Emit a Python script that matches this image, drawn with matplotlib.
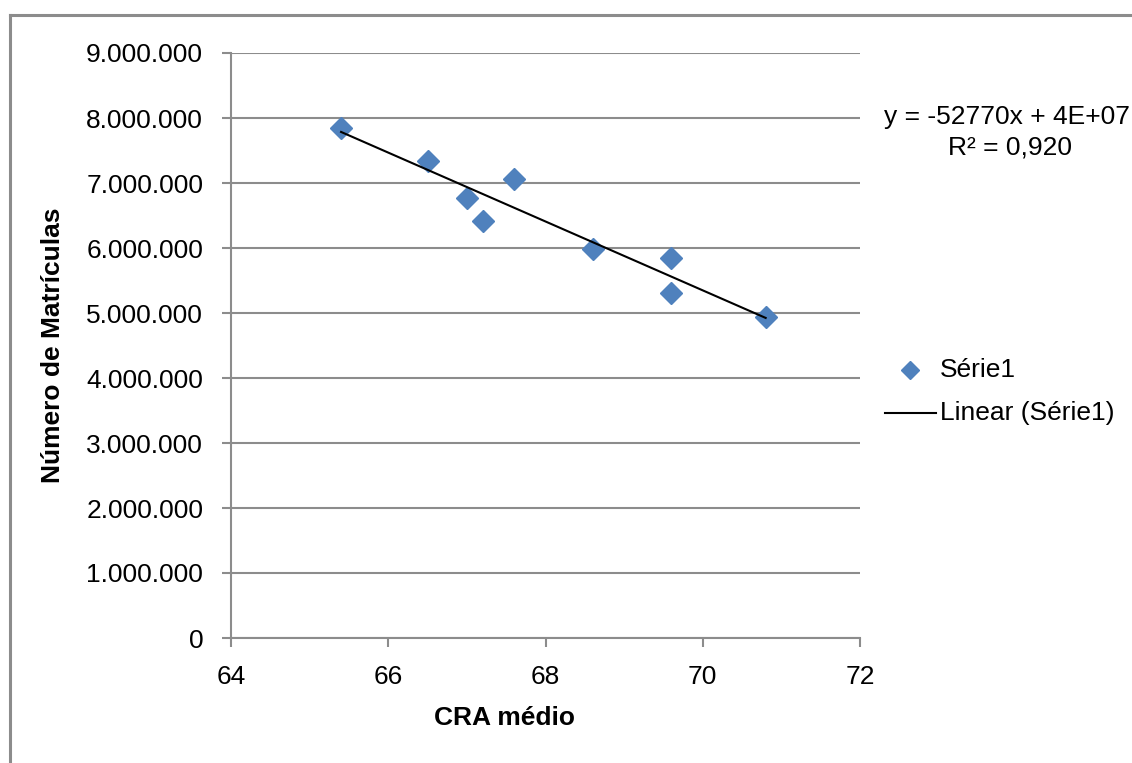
import numpy as np
import matplotlib
matplotlib.use("Agg")
import matplotlib.pyplot as plt
from matplotlib.lines import Line2D
from matplotlib.ticker import FuncFormatter

plt.rcParams['font.family'] = ['Liberation Sans', 'DejaVu Sans']

# CRA médio vs. número de matrículas
cra_medio = [65.4, 66.5, 67.0, 67.2, 67.6, 68.6, 69.6, 69.6, 70.8]
matriculas = [7846000, 7340000, 6770000, 6415000, 7060000,
              5985000, 5846000, 5310000, 4940000]

x_ticks = [64, 66, 68, 70, 72]
y_ticks = [0, 1000000, 2000000, 3000000, 4000000, 5000000,
           6000000, 7000000, 8000000, 9000000]

series_name = "Série1"
trend_name = "Linear (Série1)"
equation_text = "y = -52770x + 4E+07"
r2_text = "R² = 0,920"

blue = "#4F81BD"
grid_gray = "#8C8C8C"
FS = 19

W, H = 1132, 763
fig = plt.figure(figsize=(W / 100, H / 100), dpi=100)

# chart area frame (top and left edges visible)
fig.add_artist(Line2D([10 / W, 10 / W], [0, 1 - 15 / H], transform=fig.transFigure,
                      color="#8C8C8C", lw=2.2))
fig.add_artist(Line2D([10 / W, 1], [1 - 15 / H, 1 - 15 / H], transform=fig.transFigure,
                      color="#8C8C8C", lw=2.2))

left, right, top, bottom = 231, 860, 53, 638
ax = fig.add_axes([left / W, 1 - bottom / H, (right - left) / W, (bottom - top) / H])

ax.set_xlim(64, 72)
ax.set_ylim(0, 9000000)
ax.set_xticks(x_ticks)
ax.set_yticks(y_ticks)
ax.yaxis.set_major_formatter(FuncFormatter(lambda v, p: f"{int(v):,}".replace(",", ".")))
ax.grid(axis="y", color=grid_gray, lw=1.5)
ax.set_axisbelow(True)

for s in ["top", "right"]:
    ax.spines[s].set_visible(False)
for s in ["left", "bottom"]:
    ax.spines[s].set_color(grid_gray)
    ax.spines[s].set_linewidth(1.5)
ax.tick_params(axis="both", direction="out", length=6.5, width=1.5, color=grid_gray,
               labelsize=FS, labelcolor="black")
ax.tick_params(axis="x", pad=13)
ax.tick_params(axis="y", pad=13.5)

# data points
ax.plot(cra_medio, matriculas, linestyle="none", marker="D", markersize=11,
        color=blue, zorder=3)

# linear trend line
coef = np.polyfit(cra_medio, matriculas, 1)
xs = np.array([min(cra_medio), max(cra_medio)])
ax.plot(xs, np.polyval(coef, xs), color="black", lw=1.5, zorder=4)

# axis titles
fig.text(504.5 / W, 1 - 718 / H, "CRA médio", fontsize=FS, fontweight="bold",
         ha="center", va="center")
fig.text(53 / W, 1 - 345 / H, "Número de Matrículas", fontsize=FS, fontweight="bold",
         ha="center", va="center", rotation=90)

# equation of the trend line
fig.text(884 / W, 1 - 117 / H, equation_text, fontsize=FS, ha="left", va="center")
fig.text(1010 / W, 1 - 147 / H, r2_text, fontsize=FS, ha="center", va="center")

# legend
fig.add_artist(Line2D([910 / W], [1 - 370 / H], transform=fig.transFigure,
                      marker="D", markersize=9, color=blue, linestyle="none"))
fig.text(940 / W, 1 - 370 / H, series_name, fontsize=FS, ha="left", va="center")
fig.add_artist(Line2D([885 / W, 936 / W], [1 - 413 / H, 1 - 413 / H],
                      transform=fig.transFigure, color="black", lw=1.5))
fig.text(940 / W, 1 - 413 / H, trend_name, fontsize=FS, ha="left", va="center")

fig.savefig("out.png", dpi=100)
